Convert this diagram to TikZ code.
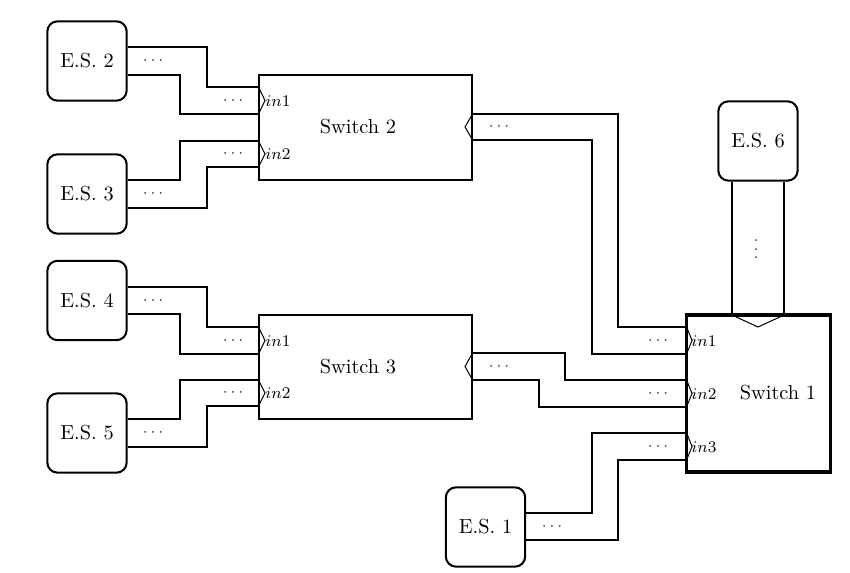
\documentclass[tikz,border=0pt]{standalone}
\begin{document}
\begin{tikzpicture}[x=0.01728cm,y=-0.01728cm,
  esbox/.style={draw, line width=1pt, rounded corners=5pt, minimum width=39pt, minimum height=39pt, inner sep=0pt},
  swbox/.style={draw, line width=1pt, minimum width=104.5pt, minimum height=51.5pt, inner sep=0pt},
  swmain/.style={draw, line width=1.8pt, minimum width=70.8pt, minimum height=77.2pt, inner sep=0pt},
  wire/.style={line width=0.5pt},
  portmark/.style={line width=0.5pt},
  dotsl/.style={inner sep=0pt, text=black!80, font=\footnotesize},
  plabel/.style={anchor=west, inner sep=0pt, font=\footnotesize},
  txt/.style={inner sep=0pt},
]
\useasboundingbox (0,0) rectangle (850,573);

% end systems
\node[esbox] (es2) at (87,61) {E.S. 2};
\node[esbox] (es3) at (87,194) {E.S. 3};
\node[esbox] (es4) at (87,300.5) {E.S. 4};
\node[esbox] (es5) at (87,433) {E.S. 5};
\node[esbox] (es1) at (485.5,527) {E.S. 1};
\node[esbox] (es6) at (758,141) {E.S. 6};

% switches
\node[swbox] (sw2) at (365.5,127.5) {};
\node[swbox] (sw3) at (365.5,367) {};
\node[swmain] (sw1) at (758.5,393.5) {};
\node[txt] (sw2l) at (358,127) {Switch 2};
\node[txt] (sw3l) at (358,367) {Switch 3};
\node[txt] (sw1l) at (778,393) {Switch 1};

% wires to switch 2
\draw[wire] (es2.east |- 0,47) -| (207,87) -- (sw2.west |- 0,87);
\draw[wire] (es2.east |- 0,75) -| (180,114) -- (sw2.west |- 0,114);
\draw[wire] (es3.east |- 0,180) -| (180,141) -- (sw2.west |- 0,141);
\draw[wire] (es3.east |- 0,208) -| (207,167) -- (sw2.west |- 0,167);
% wires to switch 3
\draw[wire] (es4.east |- 0,287) -| (207,327) -- (sw3.west |- 0,327);
\draw[wire] (es4.east |- 0,314) -| (180,354) -- (sw3.west |- 0,354);
\draw[wire] (es5.east |- 0,419) -| (180,380) -- (sw3.west |- 0,380);
\draw[wire] (es5.east |- 0,447) -| (207,406) -- (sw3.west |- 0,406);
% wires to switch 1
\draw[wire] (sw2.east |- 0,114) -| (618,327) -- (sw1.west |- 0,327);
\draw[wire] (sw2.east |- 0,140) -| (592,354) -- (sw1.west |- 0,354);
\draw[wire] (sw3.east |- 0,353) -| (565,380) -- (sw1.west |- 0,380);
\draw[wire] (sw3.east |- 0,380) -| (539,407) -- (sw1.west |- 0,407);
\draw[wire] (es1.east |- 0,513) -| (592,433) -- (sw1.west |- 0,433);
\draw[wire] (es1.east |- 0,540) -| (618,460) -- (sw1.west |- 0,460);
\draw[wire] (732,0 |- es6.south) -- (732,0 |- sw1.north);
\draw[wire] (784,0 |- es6.south) -- (784,0 |- sw1.north);

% port marks
\draw[portmark] (259,88) -- (265,100.5) -- (259,113);
\draw[portmark] (259,142) -- (265,154) -- (259,166);
\draw[portmark] (259,328) -- (265,340.5) -- (259,353);
\draw[portmark] (259,381) -- (265,393) -- (259,405);
\draw[portmark] (472,115) -- (465,127) -- (472,139);
\draw[portmark] (472,354) -- (465,366.5) -- (472,379);
\draw[portmark] (687,328) -- (692,340.5) -- (687,353);
\draw[portmark] (687,381) -- (692,393.5) -- (687,406);
\draw[portmark] (687,434) -- (692,446.5) -- (687,459);
\draw[portmark] (734,316) -- (758,327) -- (782,316);

% port labels
\node[plabel] at (265,101) {$in1$};
\node[plabel] at (265,154.5) {$in2$};
\node[plabel] at (265,341) {$in1$};
\node[plabel] at (265,393.5) {$in2$};
\node[plabel] at (691,341) {$in1$};
\node[plabel] at (691,394) {$in2$};
\node[plabel] at (691,447) {$in3$};

% dots
\node[dotsl] at (153,61) {$\cdots$};
\node[dotsl] at (153,194) {$\cdots$};
\node[dotsl] at (153,300.5) {$\cdots$};
\node[dotsl] at (153,433) {$\cdots$};
\node[dotsl] at (552,527) {$\cdots$};
\node[dotsl] at (233,100.5) {$\cdots$};
\node[dotsl] at (233,154) {$\cdots$};
\node[dotsl] at (233,340.5) {$\cdots$};
\node[dotsl] at (233,393) {$\cdots$};
\node[dotsl] at (499,127) {$\cdots$};
\node[dotsl] at (499,367) {$\cdots$};
\node[dotsl] at (658,340.5) {$\cdots$};
\node[dotsl] at (658,393.5) {$\cdots$};
\node[dotsl] at (658,446.5) {$\cdots$};
\node[dotsl] at (756,243) {$\vdots$};
\end{tikzpicture}
\end{document}
